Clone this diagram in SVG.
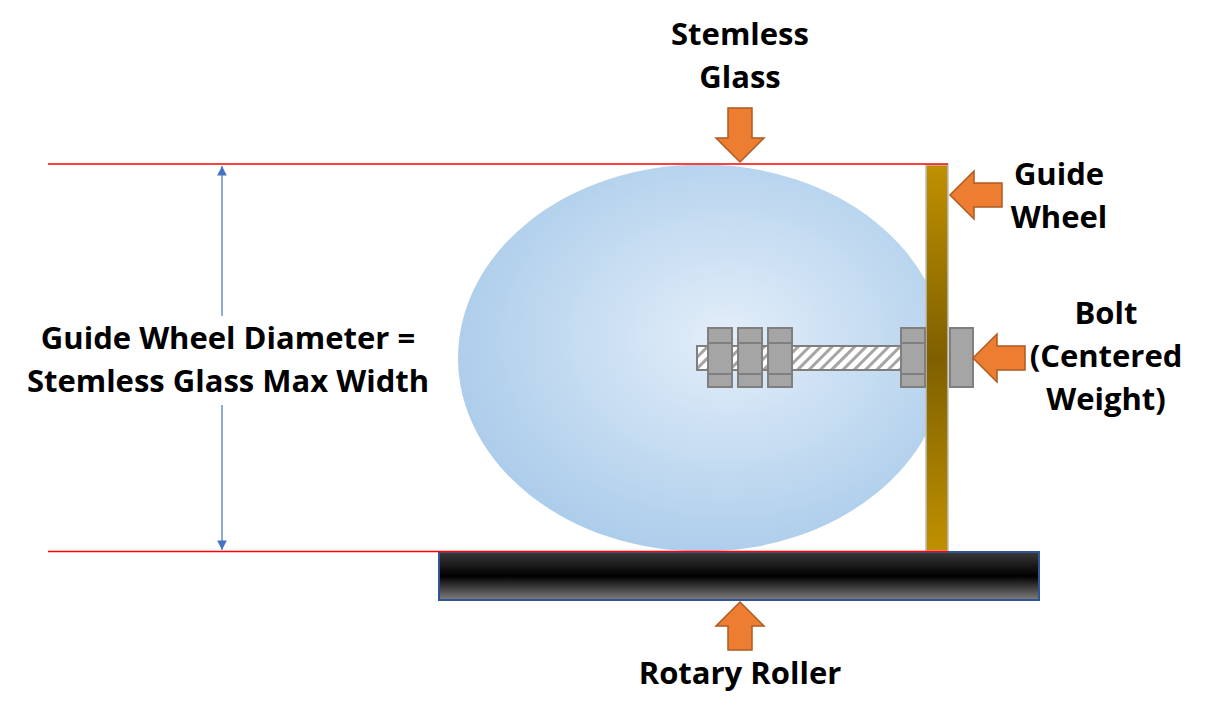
<svg xmlns="http://www.w3.org/2000/svg" width="1206" height="718" viewBox="0 0 1206 718">
<style>
text{font-family:"Open Sans","Liberation Sans",sans-serif;font-weight:bold;font-size:31px;fill:#000;text-anchor:middle}
.nut{fill:#a5a5a5;stroke:#7f7f7f;stroke-width:2}
.arr{fill:#ed7d31;stroke:#ae5a21;stroke-width:1.5}
.red{stroke:#ff0000;stroke-width:1.3}
</style>
<defs>
<radialGradient id="glass" cx="0.55" cy="0.45" r="0.6">
<stop offset="0" stop-color="#e3eef9"/><stop offset="1" stop-color="#a9cbea"/>
</radialGradient>
<linearGradient id="wheel" x1="0" y1="0" x2="0" y2="1">
<stop offset="0" stop-color="#bf9000"/><stop offset="0.5" stop-color="#7f6000"/><stop offset="1" stop-color="#bf9000"/>
</linearGradient>
<linearGradient id="roller" x1="0" y1="0" x2="0" y2="1">
<stop offset="0" stop-color="#3a3a3a"/><stop offset="0.5" stop-color="#000"/><stop offset="1" stop-color="#7f7f7f"/>
</linearGradient>
<pattern id="hatch" width="8" height="8" patternUnits="userSpaceOnUse" patternTransform="rotate(45)">
<rect width="8" height="8" fill="#fff"/><rect width="3" height="8" fill="#a5a5a5"/>
</pattern>
<marker id="ah" viewBox="0 0 10 10" refX="10" refY="5" markerWidth="8" markerHeight="8" orient="auto-start-reverse"><path d="M0,0L10,5L0,10z" fill="#4472c4"/></marker>
<clipPath id="gc"><rect x="0" y="0" width="926" height="718"/></clipPath>
</defs>
<g id="glass-body"><ellipse cx="702" cy="358" rx="244" ry="193.5" fill="url(#glass)" clip-path="url(#gc)"/></g>
<g id="guide-wheel"><rect x="926" y="165" width="22" height="386" fill="url(#wheel)" stroke="#bfbfbf" stroke-width="1.5"/></g>
<g id="roller-body"><rect x="439" y="552" width="600" height="48" fill="url(#roller)" stroke="#2f5597" stroke-width="2"/></g>
<g id="bolt">
<rect x="697" y="346" width="204" height="24" fill="url(#hatch)" stroke="#7f7f7f" stroke-width="2"/>
<g class="nut"><rect x="708" y="328" width="24" height="59"/><rect x="738" y="328" width="24" height="59"/><rect x="768" y="328" width="24" height="59"/><rect x="901" y="328" width="24" height="59"/><rect x="950" y="328" width="23" height="59"/></g>
<g stroke="#7f7f7f" stroke-width="2"><path d="M708,343h24M708,374h24M738,343h24M738,374h24M768,343h24M768,374h24M901,343h24M901,374h24"/></g>
</g>
<g id="connectors">
<line class="red" x1="48" y1="164" x2="948" y2="164"/>
<line class="red" x1="48" y1="551.5" x2="948" y2="551.5"/>
<line x1="222" y1="316" x2="222" y2="166" stroke="#4472c4" stroke-width="1.2" marker-end="url(#ah)"/>
<line x1="222" y1="405" x2="222" y2="550" stroke="#4472c4" stroke-width="1.2" marker-end="url(#ah)"/>
<path class="arr" d="M728,108h24v30h12l-24,24l-24,-24h12z"/>
<path class="arr" d="M1002,183v24h-28v12l-24,-24l24,-24v12z"/>
<path class="arr" d="M1025,346v24h-28v12l-24,-24l24,-24v12z"/>
<path class="arr" d="M728,650h24v-24h12l-24,-24l-24,24h12z"/>
</g>
<g id="labels">
<text x="740" y="45">Stemless</text><text x="740" y="88">Glass</text>
<text x="1059" y="185">Guide</text><text x="1059" y="228">Wheel</text>
<text x="1106" y="324">Bolt</text><text x="1106" y="367">(Centered</text><text x="1106" y="410">Weight)</text>
<text x="228" y="349">Guide Wheel Diameter =</text><text x="228" y="392">Stemless Glass Max Width</text>
<text x="740" y="684">Rotary Roller</text>
</g>
</svg>
